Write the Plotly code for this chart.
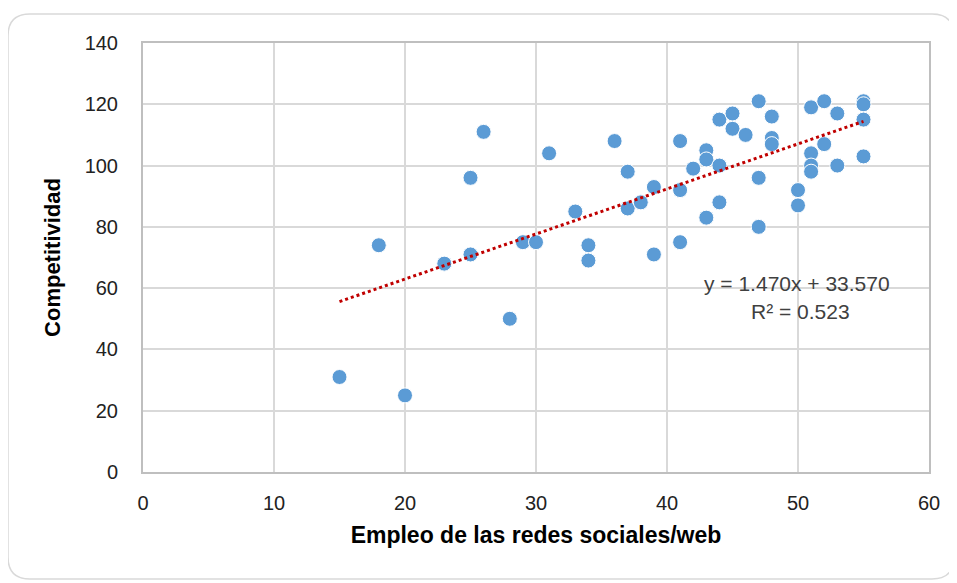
import plotly.graph_objects as go

# Data
empleo = [15, 20, 18, 23, 25, 25, 26, 28, 29, 30, 31, 33, 34, 34, 36, 37, 37, 38, 39, 39,
          41, 41, 41, 42, 43, 43, 43, 44, 44, 44, 45, 45, 46, 47, 47, 47, 48, 48, 48,
          50, 50, 51, 51, 51, 51, 52, 52, 53, 53, 55, 55, 55, 55]
competitividad = [31, 25, 74, 68, 71, 96, 111, 50, 75, 75, 104, 85, 74, 69, 108, 98, 86, 88, 93, 71,
                  108, 92, 75, 99, 105, 102, 83, 115, 100, 88, 117, 112, 110, 121, 96, 80, 116, 109, 107,
                  92, 87, 119, 104, 100, 98, 121, 107, 117, 100, 121, 120, 115, 103]
slope = 1.470
intercept = 33.570
r2 = 0.523
trend_x = [min(empleo), max(empleo)]
trend_y = [slope * x + intercept for x in trend_x]

x_ticks = [0, 10, 20, 30, 40, 50, 60]
y_ticks = [0, 20, 40, 60, 80, 100, 120, 140]

OFF = 8  # page body margin
W, H = 957 - OFF, 583 - OFF
L, R, T, B = 143 - OFF, 28, 43 - OFF, 111
pw, ph = W - L - R, H - T - B

def px(X):  # page pixel -> paper
    return (X - OFF - L) / pw

def py(Y):
    return (H - B - (Y - OFF)) / ph

fig = go.Figure()
fig.add_trace(go.Scatter(x=empleo, y=competitividad, mode="markers",
                         marker=dict(size=15, color="#5B9BD5", line=dict(width=1, color="white")),
                         showlegend=False, hoverinfo="x+y"))
fig.add_trace(go.Scatter(x=trend_x, y=trend_y, mode="lines",
                         line=dict(color="#C00000", width=3, dash="dot"),
                         showlegend=False, hoverinfo="skip"))

# rounded chart border
x0, x1, y0, y1, rr = 8, 954, 14, 579, 22
path = (f"M {px(x0+rr)},{py(y0)} L {px(x1-rr)},{py(y0)} Q {px(x1)},{py(y0)} {px(x1)},{py(y0+rr)} "
        f"L {px(x1)},{py(y1-rr)} Q {px(x1)},{py(y1)} {px(x1-rr)},{py(y1)} "
        f"L {px(x0+rr)},{py(y1)} Q {px(x0)},{py(y1)} {px(x0)},{py(y1-rr)} "
        f"L {px(x0)},{py(y0+rr)} Q {px(x0)},{py(y0)} {px(x0+rr)},{py(y0)} Z")
fig.add_shape(type="path", path=path, xref="paper", yref="paper",
              line=dict(color="#D9D9D9", width=1.5), layer="below")

ann_font = dict(family="Liberation Sans, Arial", size=21, color="#404040")
fig.add_annotation(x=px(797), y=py(283), xref="paper", yref="paper", xanchor="center", yanchor="middle",
                   text=f"y = {slope:.3f}x + {intercept:.3f}", showarrow=False, font=ann_font)
fig.add_annotation(x=px(800), y=py(311), xref="paper", yref="paper", xanchor="center", yanchor="middle",
                   text=f"R² = {r2:.3f}", showarrow=False, font=ann_font)

axis_font = dict(family="Liberation Sans, Arial", size=20, color="#222222")
title_font = dict(family="Liberation Sans, Arial", size=23, color="#000000")

fig.update_layout(
    width=W, height=H,
    margin=dict(l=L, r=R, t=T, b=B),
    paper_bgcolor="white", plot_bgcolor="white",
    xaxis=dict(range=[0, 60], tickvals=x_ticks, showgrid=True, gridcolor="#D9D9D9", gridwidth=2,
               showline=True, linecolor="#BFBFBF", linewidth=2, mirror=True, zeroline=False,
               ticks="", tickfont=axis_font, ticklabelstandoff=12,
               title=dict(text="<b>Empleo de las redes sociales/web</b>", font=title_font, standoff=14)),
    yaxis=dict(range=[0, 140], tickvals=y_ticks, showgrid=True, gridcolor="#D9D9D9", gridwidth=2,
               showline=True, linecolor="#BFBFBF", linewidth=2, mirror=True, zeroline=False,
               ticks="", tickfont=axis_font, ticklabelstandoff=19,
               title=dict(text="<b>Competitividad</b>", font=dict(family="Liberation Sans, Arial", size=22, color="#000000"), standoff=18)),
)

fig.write_html("out.html")
